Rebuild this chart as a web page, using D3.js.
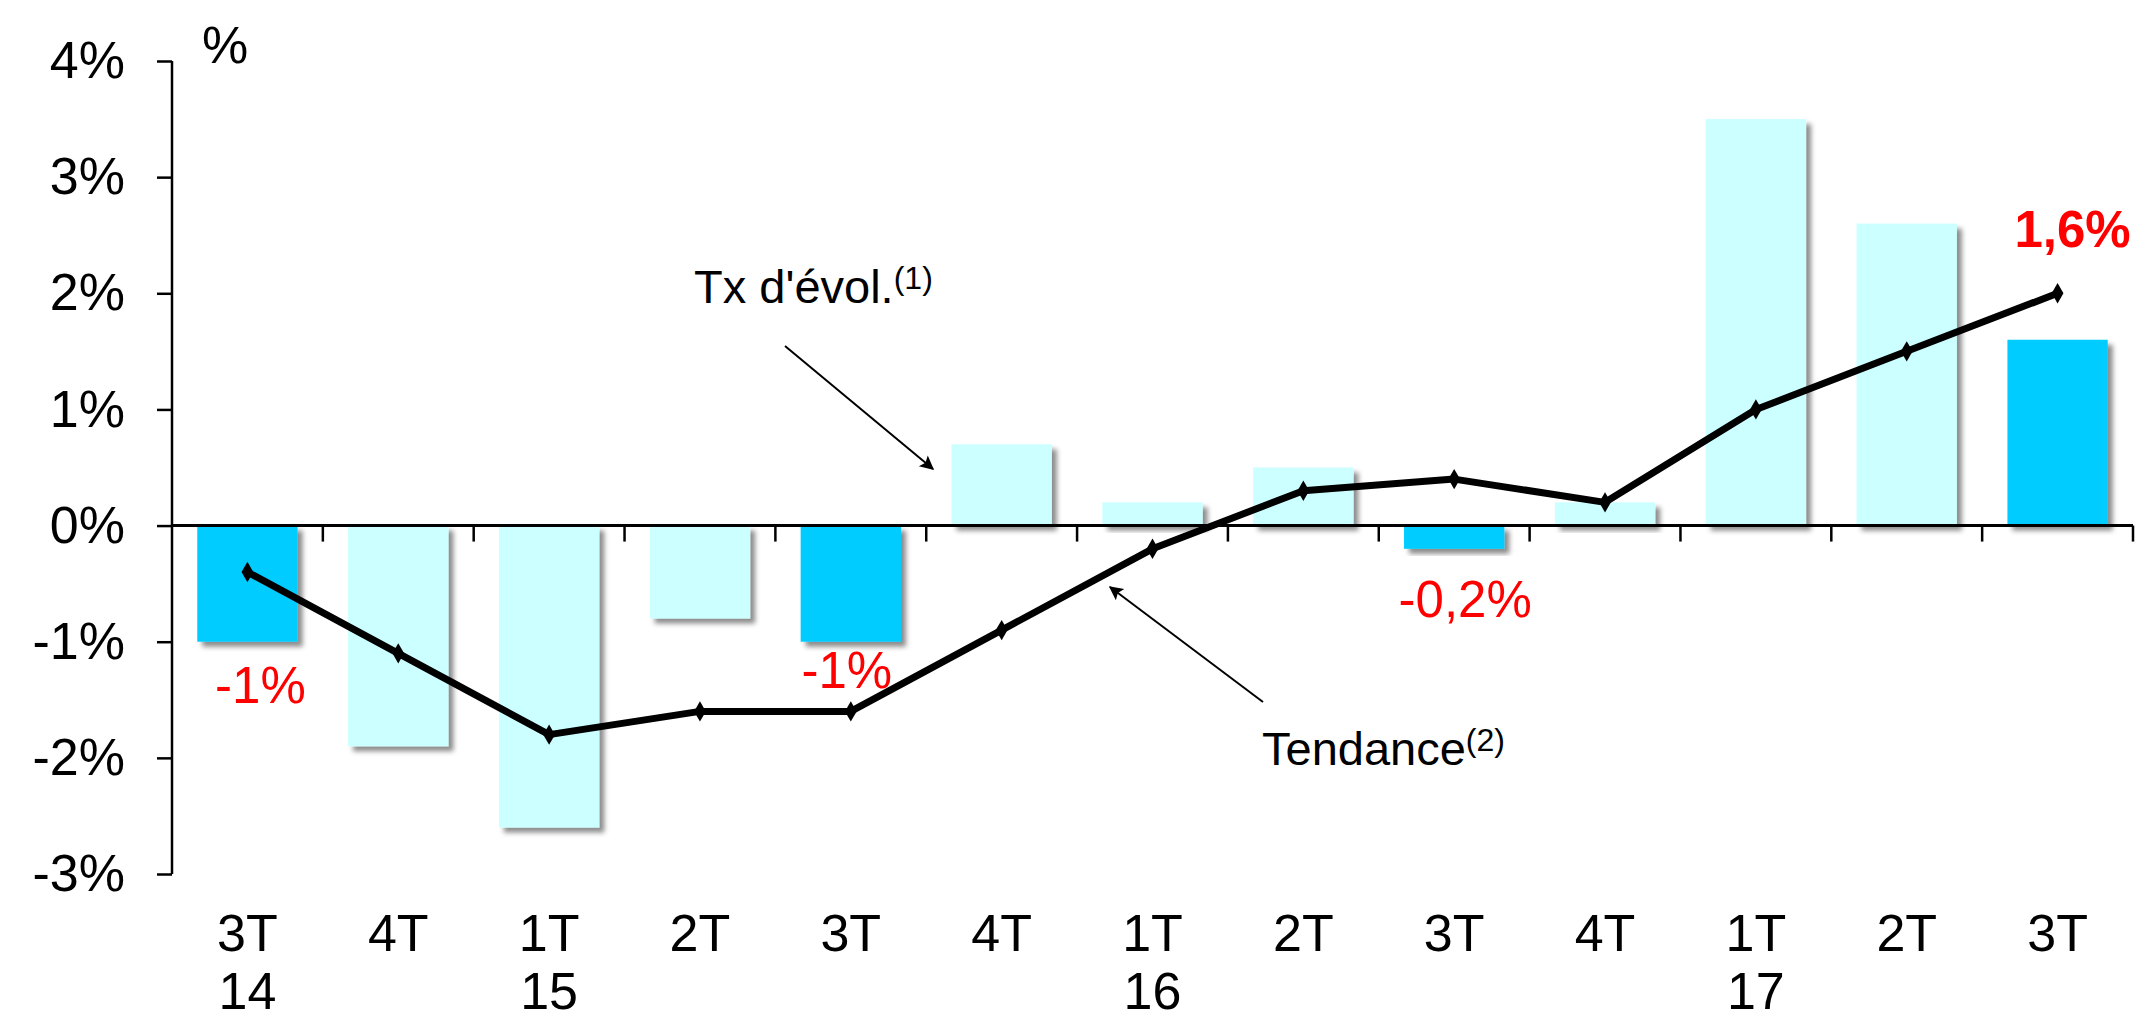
<!DOCTYPE html>
<html lang="fr">
<head>
<meta charset="UTF-8">
<title>Tx d'évolution et tendance</title>
<script src="https://cdn.jsdelivr.net/npm/d3@7"></script>
<style>
  body { margin: 0; background: #fff; }
  text { font-family: Arial, "Liberation Sans", sans-serif; }
</style>
</head>
<body>
<script>
// data
var quarters = ["3T", "4T", "1T", "2T", "3T", "4T", "1T", "2T", "3T", "4T", "1T", "2T", "3T"];
var years    = ["14", "", "15", "", "", "", "16", "", "", "", "17", "", ""];
var evol     = [-1, -1.9, -2.6, -0.8, -1, 0.7, 0.2, 0.5, -0.2, 0.2, 3.5, 2.6, 1.6];   // bars, Tx d'évol.
var tendance = [-0.4, -1.1, -1.8, -1.6, -1.6, -0.9, -0.2, 0.3, 0.4, 0.2, 1.0, 1.5, 2.0]; // line
var highlight = [0, 4, 8, 12];   // quarters drawn in the darker blue
var yTicks = [-3, -2, -1, 0, 1, 2, 3, 4];
var valueLabels = ["-1%", "-1%", "-0,2%", "1,6%"];

// layout of the labels (offsets from their bar end, in px)
var labelPlace = [
  {dx: 13, dy: 61, bold: false},
  {dx: -4, dy: 46, bold: false},
  {dx: 11, dy: 68, bold: false},
  {dx: 15, dy: -93, bold: true}
];

var W = 2141, H = 1021;
var svg = d3.select("body").append("svg")
  .attr("width", W)
  .attr("height", H)

var defs = svg.append("defs")
defs.append("filter").attr("id", "shadow")
  .attr("x", "-20%").attr("y", "-20%").attr("width", "150%").attr("height", "150%")
  .append("feDropShadow")
  .attr("dx", 5).attr("dy", 5).attr("stdDeviation", 2.5)
  .attr("flood-color", "#000").attr("flood-opacity", 0.45)

defs.append("marker").attr("id", "arrow")
  .attr("viewBox", "0 0 10 10").attr("refX", 9).attr("refY", 5)
  .attr("markerWidth", 9).attr("markerHeight", 7).attr("markerUnits", "strokeWidth")
  .attr("orient", "auto")
  .append("path").attr("d", "M0,0 L10,5 L0,10 L2,5 z").attr("fill", "#000")

var idx = d3.range(quarters.length)
var x = d3.scaleBand()
  .domain(idx)
  .range([172, 2133])
  .paddingInner(0.335)
  .paddingOuter(0.1675)

var y = d3.scaleLinear().domain([-3, 4]).range([874, 61])

var cx = function(i){ return x(i) + x.bandwidth() / 2 }

//Bars
svg.append("g").selectAll("rect")
  .data(idx)
  .enter()
  .append("rect")
  .attr("x", function(i){ return x(i) })
  .attr("width", x.bandwidth())
  .attr("y", function(i){ return y(Math.max(0, evol[i])) })
  .attr("height", function(i){ return Math.abs(y(evol[i]) - y(0)) })
  .attr("fill", function(i){ return highlight.indexOf(i) >= 0 ? "#00CCFF" : "#CCFFFF" })
  .attr("filter", "url(#shadow)")

//Y axis
var yAxis = svg.append("g")
  .attr("transform", "translate(172,0)")
  .call(d3.axisLeft(y).tickValues(yTicks).tickSize(15).tickPadding(32)
        .tickFormat(function(d){ return d + "%" }))
yAxis.select(".domain").attr("d", "M0," + y(4) + "V" + y(-3)).attr("stroke-width", 2.5)
yAxis.selectAll(".tick line").attr("stroke-width", 2.5)
yAxis.selectAll("text").attr("font-size", 52).attr("fill", "#000")
  .attr("font-family", "Arial, 'Liberation Sans', sans-serif")

svg.append("text")
  .attr("x", 202).attr("y", 63)
  .attr("font-size", 52)
  .text("%")

//Zero line + category ticks
svg.append("line")
  .attr("x1", 172).attr("x2", 2133)
  .attr("y1", y(0)).attr("y2", y(0))
  .attr("stroke", "#000").attr("stroke-width", 3)

svg.append("g").selectAll("line")
  .data(idx)
  .enter()
  .append("line")
  .attr("x1", function(i){ return x(i) + x.step() }).attr("x2", function(i){ return x(i) + x.step() })
  .attr("transform", "translate(" + (-x.step() * x.paddingInner() / 2) + ",0)")
  .attr("y1", y(0)).attr("y2", y(0) + 16)
  .attr("stroke", "#000").attr("stroke-width", 2.5)

//Category labels
var cat = svg.append("g").selectAll("text")
  .data(idx)
  .enter()
  .append("text")
  .attr("text-anchor", "middle")
  .attr("font-size", 52)
  .attr("x", cx)
cat.append("tspan").attr("x", cx).attr("y", 951).text(function(i){ return quarters[i] })
cat.append("tspan").attr("x", cx).attr("y", 1009).text(function(i){ return years[i] })

//Trend line
var line = d3.line()
  .x(function(i){ return cx(i) })
  .y(function(i){ return y(tendance[i]) })

svg.append("path")
  .datum(idx)
  .attr("d", line)
  .attr("fill", "none")
  .attr("stroke", "#000")
  .attr("stroke-width", 7)
  .attr("stroke-linejoin", "round")

svg.append("g").selectAll("path")
  .data(idx)
  .enter()
  .append("path")
  .attr("d", d3.symbol(d3.symbolDiamond, 120))
  .attr("transform", function(i){ return "translate(" + cx(i) + "," + y(tendance[i]) + ")" })
  .attr("fill", "#000")

//Value labels
svg.append("g").selectAll("text")
  .data(highlight)
  .enter()
  .append("text")
  .attr("text-anchor", "middle")
  .attr("font-size", 51)
  .attr("fill", "#FF0000")
  .attr("font-weight", function(d, k){ return labelPlace[k].bold ? "bold" : "normal" })
  .attr("x", function(i, k){ return cx(i) + labelPlace[k].dx })
  .attr("y", function(i, k){ return y(evol[i]) + labelPlace[k].dy })
  .text(function(d, k){ return valueLabels[k] })

//Annotations
function note(tx, ty, label, sup, ax1, ay1, ax2, ay2) {
  var t = svg.append("text").attr("x", tx).attr("y", ty).attr("font-size", 47)
  t.append("tspan").text(label)
  t.append("tspan").attr("font-size", 32).attr("dy", -14).text(sup)
  svg.append("line")
    .attr("x1", ax1).attr("y1", ay1).attr("x2", ax2).attr("y2", ay2)
    .attr("stroke", "#000").attr("stroke-width", 2)
    .attr("marker-end", "url(#arrow)")
}
note(694, 303, "Tx d'évol.", "(1)", 785, 346, 933, 469)
note(1262, 765, "Tendance", "(2)", 1263, 702, 1110, 587)
</script>
</body>
</html>
